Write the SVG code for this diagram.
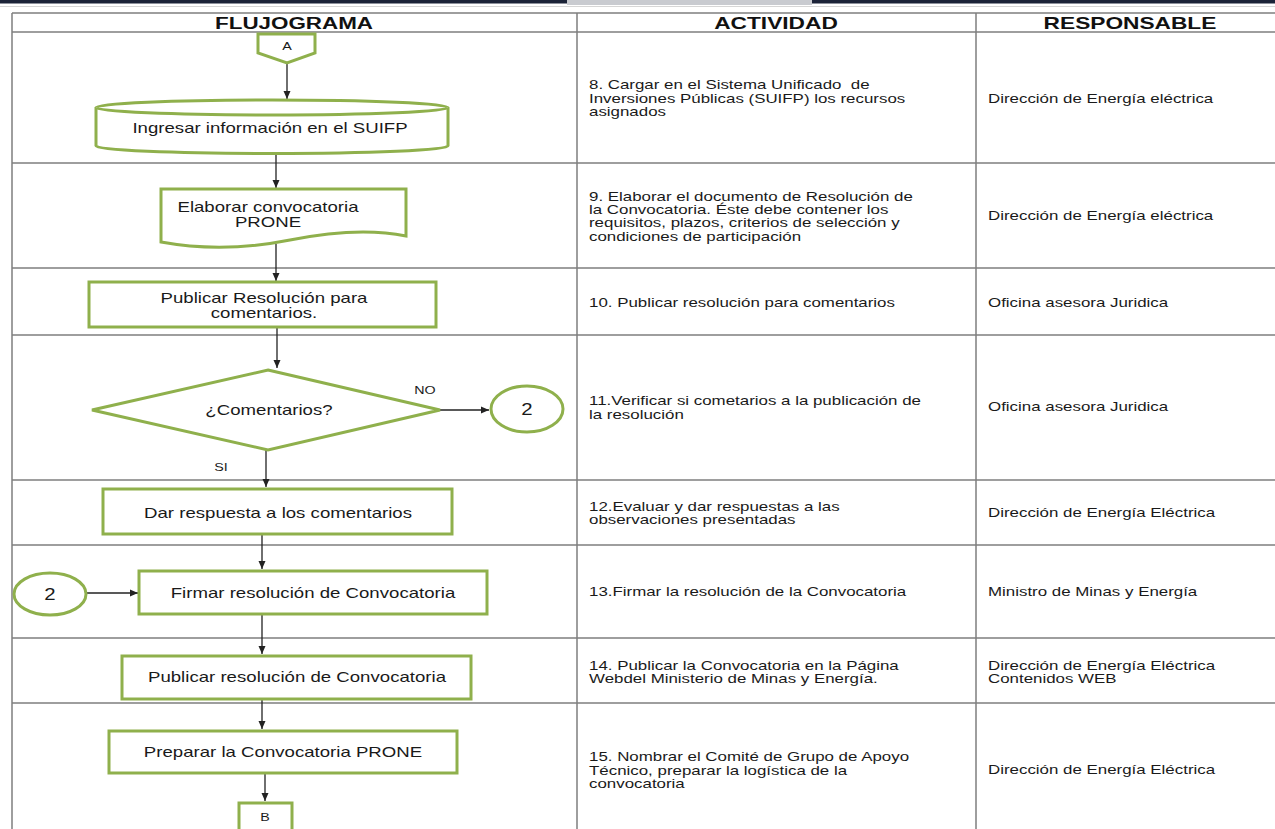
<svg xmlns="http://www.w3.org/2000/svg" width="1275" height="829" viewBox="0 0 1275 829">
<style>
.grid{stroke:#7f7f7f;stroke-width:1.5;fill:none}
.shape{fill:#ffffff;stroke:#8fb04c;stroke-width:3}
.conn{stroke:#222;stroke-width:1.3;fill:none}
.hdr{font-family:"Liberation Sans",Arial,sans-serif;font-size:16px;font-weight:bold;fill:#111;text-anchor:middle}
.cell{font-family:"Liberation Sans",Arial,sans-serif;font-size:13px;fill:#1a1a1a;white-space:pre}
.lbl{font-family:"Liberation Sans",Arial,sans-serif;font-size:14px;fill:#1a1a1a;text-anchor:middle}
.sm{font-family:"Liberation Sans",Arial,sans-serif;font-size:11px;fill:#1a1a1a;text-anchor:middle}
.num{font-family:"Liberation Sans",Arial,sans-serif;font-size:17px;fill:#1a1a1a;text-anchor:middle}
</style>
<defs>
<marker id="arr" viewBox="0 0 8 8" refX="8" refY="4" markerWidth="8" markerHeight="8" markerUnits="userSpaceOnUse" orient="auto">
<path d="M0,0.5 L8,4 L0,7.5 z" fill="#222"/>
</marker>
</defs>
<rect width="1275" height="829" fill="#ffffff"/>
<g id="topbar">
<rect x="0" y="0" width="1275" height="3.5" fill="#1b2338"/>
<rect x="567" y="0" width="245" height="5" fill="#c9cbd0"/>
<line x1="0" y1="6.5" x2="1275" y2="6.5" stroke="#d6d6d6" stroke-width="1"/>
</g>
<g id="table">
<path class="grid" d="M12,13 H1275 M12,32 H1275 M12,163 H1275 M12,268 H1275 M12,335 H1275 M12,480 H1275 M12,545 H1275 M12,638 H1275 M12,703 H1275 M12,13 V829 M577,13 V829 M976,13 V829"/>
<text class="hdr" transform="matrix(1.4 0 0 1 294 29)">FLUJOGRAMA</text>
<text class="hdr" transform="matrix(1.42 0 0 1 776 29)">ACTIVIDAD</text>
<text class="hdr" transform="matrix(1.42 0 0 1 1130 29)">RESPONSABLE</text>
</g>
<g id="activities">
<text class="cell" transform="matrix(1.3 0 0 1 589 89)">8. Cargar en el Sistema Unificado  de</text>
<text class="cell" transform="matrix(1.3 0 0 1 589 103)">Inversiones Públicas (SUIFP) los recursos</text>
<text class="cell" transform="matrix(1.3 0 0 1 589 116)">asignados</text>
<text class="cell" transform="matrix(1.3 0 0 1 589 201)">9. Elaborar el documento de Resolución de</text>
<text class="cell" transform="matrix(1.3 0 0 1 589 214)">la Convocatoria. Éste debe contener los</text>
<text class="cell" transform="matrix(1.3 0 0 1 589 227)">requisitos, plazos, criterios de selección y</text>
<text class="cell" transform="matrix(1.3 0 0 1 589 241)">condiciones de participación</text>
<text class="cell" transform="matrix(1.3 0 0 1 589 307)">10. Publicar resolución para comentarios</text>
<text class="cell" transform="matrix(1.3 0 0 1 589 405)">11.Verificar si cometarios a la publicación de</text>
<text class="cell" transform="matrix(1.3 0 0 1 589 419)">la resolución</text>
<text class="cell" transform="matrix(1.3 0 0 1 589 511)">12.Evaluar y dar respuestas a las</text>
<text class="cell" transform="matrix(1.3 0 0 1 589 524)">observaciones presentadas</text>
<text class="cell" transform="matrix(1.3 0 0 1 589 596)">13.Firmar la resolución de la Convocatoria</text>
<text class="cell" transform="matrix(1.3 0 0 1 589 670)">14. Publicar la Convocatoria en la Página</text>
<text class="cell" transform="matrix(1.3 0 0 1 589 683)">Webdel Ministerio de Minas y Energía.</text>
<text class="cell" transform="matrix(1.3 0 0 1 589 761)">15. Nombrar el Comité de Grupo de Apoyo</text>
<text class="cell" transform="matrix(1.3 0 0 1 589 775)">Técnico, preparar la logística de la</text>
<text class="cell" transform="matrix(1.3 0 0 1 589 788)">convocatoria</text>
</g>
<g id="responsables">
<text class="cell" transform="matrix(1.3 0 0 1 988 103)">Dirección de Energía eléctrica</text>
<text class="cell" transform="matrix(1.3 0 0 1 988 220)">Dirección de Energía eléctrica</text>
<text class="cell" transform="matrix(1.3 0 0 1 988 307)">Oficina asesora Juridica</text>
<text class="cell" transform="matrix(1.3 0 0 1 988 411)">Oficina asesora Juridica</text>
<text class="cell" transform="matrix(1.3 0 0 1 988 517)">Dirección de Energía Eléctrica</text>
<text class="cell" transform="matrix(1.3 0 0 1 988 596)">Ministro de Minas y Energía</text>
<text class="cell" transform="matrix(1.3 0 0 1 988 670)">Dirección de Energía Eléctrica</text>
<text class="cell" transform="matrix(1.3 0 0 1 988 683)">Contenidos WEB</text>
<text class="cell" transform="matrix(1.3 0 0 1 988 774)">Dirección de Energía Eléctrica</text>
</g>
<g id="connectors">
<path class="conn" d="M287,63 V99" marker-end="url(#arr)"/>
<path class="conn" d="M276,154 V188" marker-end="url(#arr)"/>
<path class="conn" d="M276,244 V281" marker-end="url(#arr)"/>
<path class="conn" d="M277,327 V368" marker-end="url(#arr)"/>
<path class="conn" d="M440,410 H489" marker-end="url(#arr)"/>
<path class="conn" d="M266,450 V487" marker-end="url(#arr)"/>
<path class="conn" d="M262,534 V569" marker-end="url(#arr)"/>
<path class="conn" d="M87,593 H138" marker-end="url(#arr)"/>
<path class="conn" d="M262,614 V654" marker-end="url(#arr)"/>
<path class="conn" d="M262,699 V729" marker-end="url(#arr)"/>
<path class="conn" d="M265,773 V801" marker-end="url(#arr)"/>
<text class="sm" transform="matrix(1.3 0 0 1 425 394)">NO</text>
<text class="sm" transform="matrix(1.3 0 0 1 221 471)">SI</text>
</g>
<g id="node-A">
<path class="shape" d="M258,34 H315 V53 L287,63 L258,53 Z"/>
<text class="sm" transform="matrix(1.3 0 0 1 287 50)">A</text>
</g>
<g id="node-suifp">
<path class="shape" d="M96,107.5 A176,7.5 0 0 1 448,107.5 V146 A176,7.5 0 0 1 96,146 Z"/>
<path class="shape" d="M96,107.5 A176,7.5 0 0 0 448,107.5" fill="none"/>
<text class="lbl" transform="matrix(1.33 0 0 1 270 133)">Ingresar información en el SUIFP</text>
</g>
<g id="node-elaborar">
<path class="shape" d="M161,189 H406 V236 C372,229 330,232 290,240 C250,248 205,250 161,242 Z"/>
<text class="lbl" transform="matrix(1.33 0 0 1 268 212)">Elaborar convocatoria</text>
<text class="lbl" transform="matrix(1.33 0 0 1 268 227)">PRONE</text>
</g>
<g id="node-publicar-com">
<rect class="shape" x="89" y="282" width="347" height="45"/>
<text class="lbl" transform="matrix(1.33 0 0 1 264 303)">Publicar Resolución para</text>
<text class="lbl" transform="matrix(1.33 0 0 1 264 318)">comentarios.</text>
</g>
<g id="node-decision">
<path class="shape" d="M268,370 L440,410 L268,450 L92,410 Z"/>
<text class="lbl" transform="matrix(1.33 0 0 1 269 415)">¿Comentarios?</text>
</g>
<g id="node-2-right">
<ellipse class="shape" cx="527" cy="409" rx="36" ry="23"/>
<text class="num" transform="matrix(1.2 0 0 1 527 415)">2</text>
</g>
<g id="node-respuesta">
<rect class="shape" x="103" y="489" width="349" height="45"/>
<text class="lbl" transform="matrix(1.33 0 0 1 278 518)">Dar respuesta a los comentarios</text>
</g>
<g id="node-2-left">
<ellipse class="shape" cx="50" cy="594" rx="36" ry="21"/>
<text class="num" transform="matrix(1.2 0 0 1 50 600)">2</text>
</g>
<g id="node-firmar">
<rect class="shape" x="139" y="571" width="348" height="43"/>
<text class="lbl" transform="matrix(1.33 0 0 1 313 598)">Firmar resolución de Convocatoria</text>
</g>
<g id="node-publicar-conv">
<rect class="shape" x="122" y="656" width="349" height="43"/>
<text class="lbl" transform="matrix(1.33 0 0 1 297 682)">Publicar resolución de Convocatoria</text>
</g>
<g id="node-preparar">
<rect class="shape" x="109" y="731" width="348" height="42"/>
<text class="lbl" transform="matrix(1.33 0 0 1 283 757)">Preparar la Convocatoria PRONE</text>
</g>
<g id="node-B">
<path class="shape" d="M239,803 H292 V830 L265,840 L239,830 Z"/>
<text class="sm" transform="matrix(1.3 0 0 1 265 821)">B</text>
</g>
</svg>
